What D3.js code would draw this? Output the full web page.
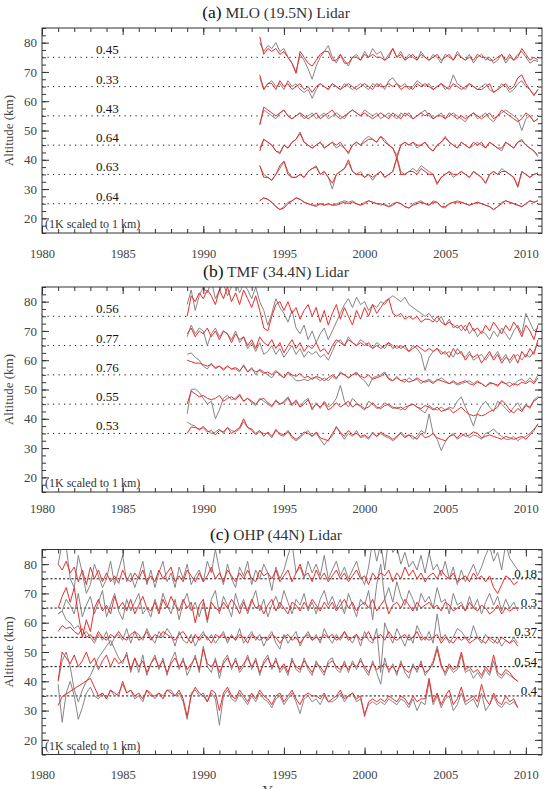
<!DOCTYPE html>
<html>
<head>
<meta charset="utf-8">
<script src="https://cdn.jsdelivr.net/npm/d3@7/dist/d3.min.js"></script>
<style>
  html, body { margin: 0; padding: 0; background: #fff; }
  svg { display: block; }
  text { font-family: "Liberation Serif", "Times New Roman", serif; }
</style>
</head>
<body>
<svg id="chart" width="549" height="789"></svg>
<script>
// ---------------- DATA (temperature anomalies in K, plotted offset at each level; 1 K = 1 km) -------------
const xTickYears = [1980, 1985, 1990, 1995, 2000, 2005, 2010];
const yTickValues = [20, 30, 40, 50, 60, 70, 80];
const step = 0.25; // quarterly samples

// Panel (a) MLO (19.5N) — starts 1993.5
const mloStart = 1993.5;
const mloLevels = [75, 65, 55, 45, 35, 25];
const mloLabels = ["0.45", "0.33", "0.43", "0.64", "0.63", "0.64"];
const mloGray75 = [5,2,4,3,5,2,3,0,-2,-5,1,-1,-4,-7.5,-3,0,2,4,0,-2,1,-1,-3,0,1,-1,2,0,3,1,2,-1,1,3,0,2,-1,1,0,-1,2,0,-1,1,0,-2,1,0,-1,2,0,-1,1,-2,0,1,-1,0,-2,-1,1,-2,0,-1,1,2,0,-2,-1,-1.5];
const mloRed75  = [7,1,3,2,3,1,2,0,-2,-5.5,2,0,-2,-3,-1,1,2,2,-1,-1,1,-2,-2,0,0,-1,1,0,1,0,0,-1,0,3,0,1,-1,0,1,-1,1,0,-1,0,1,-1,0,1,-1,1,0,-1,0,-1,1,0,0,-1,-1,0,1,-1,1,-1,0,3,1,-1,0,-1];
const mloGray65 = [3,-1,1,2,0,1,-1,2,0,1,-1,-2,-1,-4,-1,1,0,-1,1,0,-1,1,0,-1,0,1,0,-1,1,0,1,-1,2,3,1,0,1,-1,0,2,1,0,1,-1,0,1,-1,0,4,1,0,-1,1,0,-1,0,1,-1,-2,-1,1,0,-2,-1,1,2,0,-1,-3,-1];
const mloRed65  = [4,-1,1,1,-1,2,0,1,-1,0,1,-1,0,-2,0,1,0,-1,1,0,-1,0,1,0,-1,0,1,0,-1,1,0,0,1,0,1,-1,0,0,-1,1,0,1,0,-1,0,1,0,-1,1,0,-1,0,1,0,-1,-1,0,1,-2,-1,0,1,-1,0,3,4,1,-1,-3,-1];
const mloGray55 = [-3,2,1,0,-1,1,2,0,-1,0,1,-1,0,1,-1,0,1,-1,0,1,0,-1,1,2,1,0,2,1,0,1,-1,0,1,0,-1,1,0,1,-1,0,1,2,0,-1,0,1,-1,0,1,0,-1,-2,0,1,-1,0,1,-1,-2,0,1,2,1,0,-1,-5,-1,0,-2,-1];
const mloRed55  = [-3,3,2,1,0,1,2,0,-1,0,1,0,-1,0,1,-1,0,1,2,0,-1,0,1,2,1,0,1,0,-1,0,1,0,-1,1,0,-1,1,0,-1,0,1,0,1,-1,0,0,-1,1,0,-1,0,-1,0,1,0,-1,0,1,-1,0,2,1,0,-1,-2,-1,1,0,-2,-1];
const mloGray45 = [-1,2,1,0,-2,-3,0,-1,1,2,4.5,1,0,-1,0,1,-1,0,1,-1,0,-1,-3,0,1,0,2,3,2,1,3,2,0,-1,-3.5,0,1,0,1,-1,0,1,-1,-2,0,1,3,1,0,-1,1,0,-1,0,1,0,-1,1,0,-1,-2,1,0,-1,1,2,0,-1,-2,-4];
const mloRed45  = [-2,2,1,0,-2,-2.5,0,-1,1,2,4,1,0,-1,0,1,-1,0,1,0,1,-1,-2.5,0,1,0,1,2,2,1,3,1,0,-1,-4.5,0,1,0,1,0,0,1,-1,-2,0,1,2.5,1,0,-1,1,0,-1,1,0,1,-1,1,0,-1,-1,1,0,-1,1,1.5,0,-1,-2,-3.5];
const mloGray35 = [3,0,-1,-2,0,2,4.5,1,-1,-1,0,-1,1,2,3,0,1,-1,-5,0,1,2,4,1,0,1,-1,0,-2,0,1,-1,0,1,6,1,0,1,2,1,3,2,1,0,-3.5,-1,0,1,-1,0,1,0,-1,1,0,-1,-3,0,1,0,2,1,0,-1,-4.5,1,0,-1,0,0.5];
const mloRed35  = [3,-1,-1,-2,0,3,4.5,0,-1,-1,0,-1,1,2,2.5,0,1,-1,-3,0,1,2,5,1,0,0,-1,0,-1,0,1,-1,0,1,5.5,0,0,1,1,0,2,1,0,0,-3,-1,0,1,0,0,1,0,-1,1,0,-1,-3,0,1,0,1,1,0,-1,-4,1,0,-1,0,0.5];
const mloGray25 = [1,2,1.5,0.5,-1,-2,-1,0.5,1,2,1.5,0.5,0,-0.5,-1,0,-0.5,0,-0.5,0,0.5,1,0.5,1,0,-0.5,0.5,1,0.5,0,-0.5,0,-1,0,0.5,0,-1,-1.5,0,0.5,1,0,-0.5,1,0.5,-1,-1.5,0,0.5,1,0.5,0,-0.5,0,0.5,0,-0.5,-1,-2,-1,0.5,1,0.5,0,-0.5,-1,0,1,0.5,1];
const mloRed25  = [1,2,1.5,0.5,-1,-2,-1.5,0,1,2,1.5,0.5,0,-0.5,-0.5,0,-0.5,0,-0.5,-0.5,0,0.5,0,0.5,0,-0.5,0,1,0.5,0,0,-0.5,-1,-0.5,0.5,0,-1,-1.5,-0.5,0,0.5,0,-0.5,0.5,0.5,-1,-1,0,0.5,0.5,0.5,0,-0.5,0,0.5,0,-0.5,-1,-2,-1,0,1,0.5,0,-0.5,-1,0,1,0.5,1];

// Panel (b) TMF (34.4N) — starts 1989.0
const tmfStart = 1989.0;
const tmfLevels = [75, 65, 55, 45, 35];
const tmfLabels = ["0.56", "0.77", "0.76", "0.55", "0.53"];
const tmfGray75 = [4,9,2,7, 10,8,12,6, 9,11,7,10, 12,8,11,9, 6,10,5,2, -3,1,6,3, 1,-2,2,-4, -6,-3,-8,-5, -9,-6,-4,-8, -5,-2,1,4, 6,3,6.5,4, 5,2,4,3, 5,4,6,7, 6,5,6.5,4, 3,2,1,0, 1,-1,-2,0, -3,-1,-4,-3, -5,-3,-6,-4, -7,-5,-6,-8, -5,-7,-4,-6, -8,-5,-3,-6, 1,-2,-5,-4];
const tmfRed75  = [0,7,5,8, 6,9,7,4, 9,6,10,5, 8,4,9,6, 3,7,2,-4, -5,0,4,5, 2,5,1,3, -1,2,4,0, 3,-2,2,-3, 1,4,-1,3, 0,-3,2,-1, 3,0,4,1, 3,5,6,1, 0,1,-1,0, -1,0,-2,-1, -1,-2,0,-2, -3,-2,-3,-4, -3,-5,-2,-5, -4,-6,-3,-5, -2,-4,-6,-3, -5,-2,-4,-7, -3,-5,-8,-3];
const tmfGray65 = [3,7,4,6, 5,0,4,6, 3,5,4,2, 5,1,3,-1, 1,-2,1,-3, -2,0,-3,-1, -4,-2,0,-3, -1,-4,-2,-3, -2,-4,-3,-5, -2,1,2,0, 3,1,0,2, 1,0,-1,1, 0,-1,1,0, -1,0,-1,-2, 0,-1,-3,-8.5, -4,-2,-1,-2, -3,-2,-4,-1, -3,-4,-2,-5, -4,-3,-5,-3, -4,-2,-5,-3, -6,-4,-3,-5, -3,-4,-2,1];
const tmfRed65  = [4,6,3,5, 4,6,3,5, 2,5,4,1, 4,2,3,0, 2,-1,3,1, 0,2,-1,1, -2.5,0,2,-1, 1,-2,0,-1, 1,-2,-1,-3, 0,2,1,0, 2,1,0,1, 0,1,-1,0, -1,0,1,-1, 0,-1,0,-2, -1,0,-1,-2, -1,-2,-1,-3, -2,-4,-1,-3, -2,-5,-3,-4, -3,-6,-4,-2, -5,-3,-6,-4, -5,-3,-6,-2, -4,-1,-3,2];
const tmfGray55 = [7,7.5,6,5, 3,2,4,2, 3,1.5,3,2, 2,1,3.5,1, 2.5,0,2,1, 0,-1,1,0.5, -1,0.5,-0.5,-2, -2,-1.5,-2,-1, -1,-2,-1,-2, -0.5,-1.5,1,0, -1,0,1,-1, -2,-4,-1,-0.5, 0,1,-1,-2, -0.5,-2,-2.5,-1, -2,-1.5,-3,-2, -1.5,-2.5,-2,-1, -2,-3,-2.5,-3.5, -3,-2.5,-2,-3, -2,-3,-4,-2.5, -3,-4,-2,-3, -2.5,-3.5,-2,-1.5, -2.5,-1,-2.5,0];
const tmfRed55  = [5,4.5,4,4, 3.5,3,3.5,2.5, 3,2,3,2, 2.5,1.5,3,1, 2,1,1.5,0.5, 1,0,1.5,0, -1,1,0,-0.5, 0.5,-1,-0.5,-1.5, -0.5,-1,-2,-1, 0,-1,0.5,0, -1,0,0.5,-0.5, -1,0,-1.5,-1, -0.5,0.5,-1.5,-2, -1,-2,-1.5,-2.5, -2,-1,-2,-2.5, -2,-3,-1.5,-2, -2.5,-3,-2,-3, -2.5,-2,-3,-3.5, -2.5,-3,-4,-3, -3,-3.5,-2.5,-3, -4,-3,-3.5,-2.5, -3,-2,-3,-1];
const tmfGray45 = [-3.3,5,5.2,4, 2,0,1,-5, -2,2,3,1.5, 2,3.5,1,2, 0.5,-0.5,2,1, 0,-1,1.5,0, 1,2.5,0,1.5, -1,1,2,-2, 0.5,-1.5,1,-1, 0,2,6.4,1, -1,2,0.5,-1, -2,1,0,-1.5, -1,0.5,-0.5,-1.5, -1,-2,-1,-0.5, 0,-1,-2,-3, -0.5,-1.5,-2,-1, -2,-1,-1.5,1, 2.5,-1,-4,-7.5, -3,-0.5,1,-1, -2.5,1,0,-1.5, -3,-1,0.5,-2, 0,-1.5,1.5,2.5];
const tmfRed45  = [0,4.5,3.5,2.5, 3,2,1.5,2, 3,1,2,2.5, 1.5,3,1,2, 1,0,1.5,2, 0.5,-0.5,1,0, 0.5,2,-0.5,1, -1,0,1.5,-1.5, 0,-1,0.5,-2, -1,0.5,-1,0, 1,-1,0,-0.5, -1.5,-1,0.5,-1, -1.5,-0.5,0,-1, -1.5,-1,-2,-0.5, 0,-1,-1.5,-0.5, -1,-2,-1,-2.5, -2,-1.5,-3,-2, -1,-2.5,-3.5,-4, -3.5,-4,-3.5,-2.5, -2,-1,1.3,0, -2,-3,-1.5,-2.5, -0.5,-1,1,2];
const tmfGray35 = [3.9,3,2.5,1, 2.5,1,0,0.5, 1.5,0,2,1, 0.5,1.5,4,2, 1,-0.5,0.5,0, 0,-1.5,1.5,-0.5, -1,0.5,-1.5,-2.5, -1.5,0,1,-1, 0,-2,-4,-2, -1,2.5,0,-2, 0,-1,1,-1.5, -1,-2,0.5,-1, 0,-1,-1.5,-2.5, -1.5,0.5,-1,-0.5, -2,-1,1,0, 6.7,0,-2,-5.8, -3,-1,0,-2, -1,0,-1.5,-0.5, -1,-2,0,0.5, 1.5,0,-1,-2, -2,-1,-2.5,-1.5, -1,0,1.5,3];
const tmfRed35  = [0,2.2,2,1.5, 2,0.5,1,-0.5, 1,0.5,2,0, 1,2,5,2, 1.5,0,1,-1, 0.5,-1,1,0, -0.5,1,-1,-2, -1,0.5,0,-1, 0.5,-1.5,-2,-2.5, 0,2,0.5,-1, 1,-0.5,0,-1, -0.5,-1.5,0,-1, 0.5,-0.5,-1,-2, -1,0,-1.5,-0.5, -1,-2,0,-1.5, -1,0,-1.5,-2, -2.5,-1,-0.5,-1.5, 0,-1,-0.5,0.5, 0,-1.5,-1,-0.5, -1,-1.5,-2,-1, -1.5,-2,-1.5,-1, -2,-0.5,1,3.3];

// Panel (c) OHP (44N) — starts 1981.0
const ohpStart = 1981.0;
const ohpLevels = [75, 65, 55, 45, 35];
const ohpLabels = ["0.18", "0.3", "0.37", "0.54", "0.4"];
const ohpGray75 = [5,12,11,0, -3,8,2,-5, -2,5,1,-3, 0,6,-2,3, 8,-1,2,-3, 1,6,-2,3, -3,2,6,-1, 2,-3,4,0, 5,-2,1,3, -1,6,2,10, 3,-2,5,0, -3,4,1,6, -2,3,0,5, 2,-4,4,0, 3,8,12,2, 4,0,6,2, 5,1,8,0, 3,6,1,4, 0,3,6,1, -2,4,13,6, 12,3,14,9, 11,5,9,4, 6,3,8,2, 9,3,5,1, 6,0,4,-2, 3,-1,2,5, 1,4,8,11, 6,9,3,12, 7,5,3];
const ohpRed75  = [5,3,6,2, 4,-1,3,-2, 4,0,3,-1, 2,-1,1,-1.5, 3,0,-1,2, 0,3,-1,1, -1,3,0,2, 4,-1,1,-1, 3,1,-1,2, -1,1,4,0, 2,-1,3,1, -1,2,0,3, 0,-1,3,1, 2,0,3,-1, 1,3,-1,2, 5,1,2,-1, 3,0,2,-1, 1,3,0,2, -1,1,3,0, 1,-2,2,0, 2,1,3,-1, 2,0,4,1, 3,0,2,-1, 1,2,0,3, 1,0,2,-1, 0,1,-1,2, 0,1,-1,1, -3,-5,-2,1, 0,-2,-1];
const ohpGray65 = [-2,-1,3,1, -2,5,-3,1, 4,-2,2,6, -3,1,5,-1, -4,3,-1,2, 5,-2,0,-3, 3,-1,5,1, -2,3,-4,2, 5,-1,2,-3, 2,-5,3,6, -2,4,1,-3, 5,0,3,-2, 2,6,-1,3, -3,1,4,0, 6,2,-2,3, 1,5,-1,2, -2,3,6,1, 4,0,3,-2, 5,1,-3,3, 1,6,-4,8, 15,3,7,2, 9,4,1,6, 3,-1,5,2, 4,0,7,2, 3,-2,5,1, 2,-1,4,0, 3,-2,2,5, 1,4,-1,3, 0,2,-1];
const ohpRed65  = [0,4,7,2, 7,-2,-10,-4, -8,0,3,-1, 1,-2,4,0, 2,-1,3,-2, 1,4,0,-1, 2,-2,3,0, 4,1,-1,3, 0,2,-5,1, 3,-4,2,0, -1,2,0,3, 1,-2,2,-1, 3,0,1,-2, 1,3,-1,2, 0,-2,2,1, -1,2,0,3, 1,-1,2,0, 2,-1,1,3, 0,2,-1,1, 2,0,3,-1, 1,3,-2,1, 2,0,3,1, -1,2,0,1, 2,0,1,-1, 2,1,-1,0, 1,-1,2,0, -1,1,0,-2, -1,1,-2,0, -1,0,0];
const ohpGray55 = [8,9,6,5, 3,4,1,2, 0,-2,1,-1, 2,-3,0,1, -1,3,-2,2, 1,-1,3,0, -2,2,0,3, 1,-3,2,-1, -2,1,-3,0, 2,-1,1,-2, 0,2,-2,1, -1,3,-2,0, 2,-1,1,-3, 0,2,-2,-4, 1,-2,0,2, -3,0,2,-1, 1,-2,3,0, -2,1,-1,2, 0,-2,1,-3, 2,-1,-2,3, -12,5,1,-2, 3,0,-3,1, -2,4,1,-1, 2,-2,8,-1, 1,-2,0,3, 2,0,-1,4, 0,-2,1,-1, -2,0,-3,-1, -2,0,-2];
const ohpRed55  = [2,4,3,3.5, 2,1,3,0, 1,-1,2,0, -1,1,0,2, 0,-1,1,2, -1,0,2,-1, 1,0,2,1, 0,-1,1,2, 0,-2,1,-1, 1,0,-2,1, 0,1,-1,0.5, -1,1,0,-2, 1,0,-1,0, -1,1,0,-2, 0,1,-1,0, -2,0,1,-1, 0,-1,1,0, 1,-1,0,2, -1,0,1,-1, 0,2,-1,0, 1,-1,2,0, -1,0,1,-1, 0,2,-1,0, -1,0,1,-2, 0,-1,-2,0, -1,0,-2,-1, 0,-1,-2,0, -1,-2,0,-1, -2,-1,-3];
const ohpGray45 = [-5,2,5,0, -8,-12,-8,-5, -3,0,3,5, 7,9,6,3, 1,5,-2,3, -2,4,-3,1, 4,-1,3,-3, 2,5,-1,3, -3,0,4,-2, 7,0,-2,3, -4,2,4,-1, 3,-2,0,4, -1,3,-3,2, 4,-1,3,-2, 0,-3,3,-1, -2,3,-1,-3, 2,-1,-3,2, 3,-1,-2,2, -2,2,-1,3, -1,-3,2,-2, -6,3,-2,1, -3,2,-2,-4, 1,-2,2,-3, -1,2,7,1, -3,0,-2,-1, 4,-2,-1,-4, -2,-4,-1,-3, 2,-3,-4,-2, -3,-4,-5];
const ohpRed45  = [-4.8,5,3,1, 4,0,2,5, 1,3,-1,2, 4,0,3,1, 2,4,-1,3, 0,2,-2,1, 3,0,2,-2, 1,3,0,2, -1,1,3,-1, 6,1,0,2, -2,1,3,0, 2,-1,1,3, 0,2,-2,1, 3,0,2,-1, 1,-2,2,0, -1,2,0,-2, 1,0,-2,1, 2,0,-1,1, -1,1,0,2, 0,-2,1,-1, 0,1,-1,0, -2,1,-1,-2, 0,-1,1,-2, -1,1,6,0, -2,1,-1,0, 5,-1,0,-2, -1,-3,0,-2, 4,-2,-3,-1, -2,-4,-5];
const ohpGray35 = [4,-9,1,5, 0,-8,-4,1, 3,0,-1,1, -1,2,0,1, 4,1,2,-1, 0,-2,2,1, -1,1,0,2, 2,0,1,-2, -8,1,2,0, 1,-2,1,-1, -10,0,2,-1, -2,1,-1,-3, 0,-2,1,-1, -2,-4,-1,0, -3,-1,1,-2, -6,-1,0,-2, -1,-3,0,-2, -2,-1,1,-2, 0,1,-2,-1, -6,-3,-2,-3, -2,-3,-1,-2, -3,-1,-2,-4, -1,-5,-2,-3, 5,-3,0,-4, -1,0,-5,-3, 1,-3,-2,-1, -4,1,-5,-3, 0,-3,-4,-2, -3,-2,-4];
const ohpRed35  = [-3.3,-0.2,null,null, null,null,null,null, 6,3,0,1, -1,2,1,0, 5,1,2,0, 1,-1,2,0, 0,1,-1,2, 1,0,2,-1, -7,0,3,1, 0,-2,2,1, -5,1,3,0, -1,2,0,-2, 1,-1,2,0, -1,-3,0,1, -2,0,2,-1, -3,0,1,0, 0,-1,1,-2, -1,0,2,-1, 0,1,-1,0, -7,-2,-1,-2, -1,-2,0,-1, -2,0,-1,-3, 0,-2,-1,-1, 6,-2,1,-3, 0,2,-3,-1, 3,-2,-1,0, -2,4,-1,-3, 1,-2,-3,0, -2,-1,-4];

// ---------------- LAYOUT ----------------
const W = 549, H = 789;
const plotLeft = 42, plotRight = 542, plotH = 205;
const svg = d3.select("#chart");
svg.append("rect").attr("width", W).attr("height", H).attr("fill", "#fff");

const x = d3.scaleLinear().domain([1980, 2011]).range([plotLeft, plotRight]);

const panels = [
  { key: "a", top: 28, tag: "(a)", title: "MLO (19.5N) Lidar", start: mloStart, levels: mloLevels, labels: mloLabels,
    gray: [mloGray75, mloGray65, mloGray55, mloGray45, mloGray35, mloGray25],
    red: [mloRed75, mloRed65, mloRed55, mloRed45, mloRed35, mloRed25], labelSide: "left", dash: "1.2,4.3", xLabY: 258 },
  { key: "b", top: 287, tag: "(b)", title: "TMF (34.4N) Lidar", start: tmfStart, levels: tmfLevels, labels: tmfLabels,
    gray: [tmfGray75, tmfGray65, tmfGray55, tmfGray45, tmfGray35],
    red: [tmfRed75, tmfRed65, tmfRed55, tmfRed45, tmfRed35], labelSide: "left", dash: "1.2,4.3", xLabY: 513 },
  { key: "c", top: 549.5, tag: "(c)", title: "OHP (44N) Lidar", start: ohpStart, levels: ohpLevels, labels: ohpLabels,
    gray: [ohpGray75, ohpGray65, ohpGray55, ohpGray45, ohpGray35],
    red: [ohpRed75, ohpRed65, ohpRed55, ohpRed45, ohpRed35], labelSide: "right", dash: "2.2,2", xLabY: 779 }
];

const axisColor = "#333";
const labelColor = "#444";

panels.forEach(p => {
  const top = p.top, bottom = p.top + plotH;
  const y = d3.scaleLinear().domain([15, 85]).range([bottom, top]);
  const g = svg.append("g");

  // clip
  const clipId = "clip-" + p.key;
  svg.append("clipPath").attr("id", clipId)
    .append("rect").attr("x", plotLeft).attr("y", top).attr("width", plotRight - plotLeft).attr("height", plotH);

  // title
  const t = g.append("text").attr("x", 276).attr("y", top - 10).attr("text-anchor", "middle").attr("fill", "#111");
  t.append("tspan").attr("font-size", 17.5).text(p.tag);
  t.append("tspan").attr("font-size", 15.5).attr("fill", "#333").text(" " + p.title);

  // reference dotted lines
  g.selectAll(".ref").data(p.levels).join("line")
    .attr("x1", plotLeft).attr("x2", plotRight)
    .attr("y1", d => y(d)).attr("y2", d => y(d))
    .attr("stroke", "#111").attr("stroke-width", 1)
    .attr("stroke-dasharray", p.dash);

  // series
  const line = d3.line().x(d => x(d.t)).y(d => y(d.v));
  const toPts = (arr, level) => arr.map((v, i) => ({ t: p.start + step * i, v: v == null ? null : level + v }))
    .filter(d => d.v != null);
  const series = g.append("g").attr("clip-path", `url(#${clipId})`);
  p.levels.forEach((lev, i) => {
    series.append("path").datum(toPts(p.gray[i], lev))
      .attr("d", line).attr("fill", "none").attr("stroke", "#858585").attr("stroke-width", 1)
      .attr("stroke-linejoin", "round");
  });
  p.levels.forEach((lev, i) => {
    series.append("path").datum(toPts(p.red[i], lev))
      .attr("d", line).attr("fill", "none").attr("stroke", "#ef2b2b").attr("stroke-width", 1)
      .attr("stroke-linejoin", "round");
  });

  // correlation labels
  g.selectAll(".lab").data(p.levels).join("text")
    .attr("x", p.labelSide === "left" ? 96 : 537)
    .attr("y", d => y(d) - (p.labelSide === "left" ? 3 : 1))
    .attr("text-anchor", p.labelSide === "left" ? "start" : "end")
    .attr("font-size", 13).attr("fill", "#111")
    .text((d, i) => p.labels[i]);

  // axes (ticks inward on all sides)
  const minorYears = d3.range(1980, 2011, 1);
  const minorY = d3.range(15, 85.01, 2.5);
  const addAxis = (axis, tx, ty, showLabels) => {
    const a = g.append("g").attr("transform", `translate(${tx},${ty})`).call(axis);
    a.select(".domain").remove();
    a.selectAll("line").attr("stroke", axisColor);
    if (!showLabels) a.selectAll("text").remove();
    else a.selectAll("text").attr("fill", labelColor).attr("font-family", "Liberation Serif, serif");
    return a;
  };
  // bottom
  addAxis(d3.axisBottom(x).tickValues(minorYears).tickSize(-4).tickFormat(""), 0, bottom, false);
  const xb = addAxis(d3.axisBottom(x).tickValues(xTickYears).tickSize(-7).tickFormat(d3.format("d")), 0, bottom, true);
  xb.selectAll("text").attr("font-size", 12.5).attr("y", null).attr("dy", null)
    .attr("transform", `translate(0,${p.xLabY - bottom})`);
  // top
  addAxis(d3.axisTop(x).tickValues(minorYears).tickSize(-4), 0, top, false);
  addAxis(d3.axisTop(x).tickValues(xTickYears).tickSize(-7), 0, top, false);
  // left
  addAxis(d3.axisLeft(y).tickValues(minorY).tickSize(-4), plotLeft, 0, false);
  const yl = addAxis(d3.axisLeft(y).tickValues(yTickValues).tickSize(-7).tickFormat(d3.format("d")), plotLeft, 0, true);
  yl.selectAll("text").attr("font-size", 13).attr("x", -5);
  // right
  addAxis(d3.axisRight(y).tickValues(minorY).tickSize(-4), plotRight, 0, false);
  addAxis(d3.axisRight(y).tickValues(yTickValues).tickSize(-7), plotRight, 0, false);

  // frame
  g.append("rect").attr("x", plotLeft).attr("y", top).attr("width", plotRight - plotLeft).attr("height", plotH)
    .attr("fill", "none").attr("stroke", axisColor).attr("stroke-width", 1);

  // y axis title
  g.append("text").attr("transform", `translate(13,${(top + bottom) / 2}) rotate(-90)`)
    .attr("text-anchor", "middle").attr("font-size", 13).attr("fill", labelColor).text("Altitude (km)");

  // scale note
  g.append("text").attr("x", 45).attr("y", bottom - 5).attr("font-size", 12).attr("fill", "#333")
    .text("(1K scaled to 1 km)");
});

// x-axis title (partly below the picture edge, as in the reference)
svg.append("text").attr("x", 276).attr("y", 796).attr("text-anchor", "middle")
  .attr("font-size", 15).attr("fill", labelColor).text("Year");
</script>
</body>
</html>
